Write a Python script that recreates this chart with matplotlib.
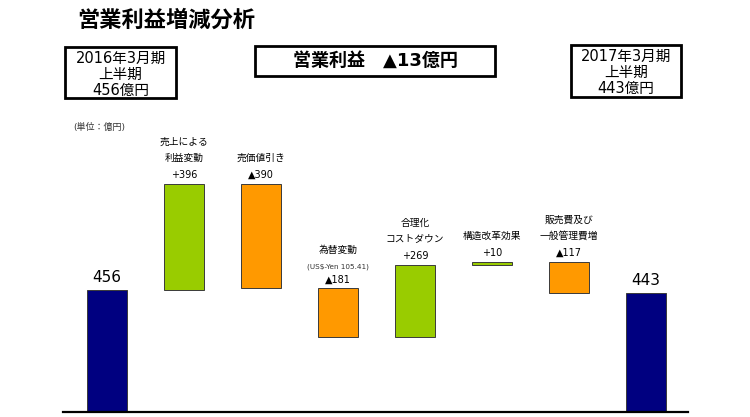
"""Waterfall chart: operating profit change analysis (first half)."""

import matplotlib

matplotlib.use("Agg")

from matplotlib import pyplot as plt
from matplotlib.patches import Rectangle

plt.rcParams["font.family"] = ["DejaVu Sans", "Noto Sans CJK JP"]

start_value = 456
end_value = 443
step_labels = [
    "売上による\n利益変動",
    "売価値引き",
    "為替変動\n(US$-Yen 105.41)",
    "合理化\nコストダウン",
    "構造改革効果",
    "販売費及び\n一般管理費増",
]
step_values = [396, -390, -181, 269, 10, -117]

NAVY = "#000080"
GREEN = "#99CC00"
ORANGE = "#FF9900"
W, H = 750, 417


def fx(px):
    return px / W


def fy(py):
    return 1 - py / H


def delta_text(value):
    return f"+{value}" if value > 0 else f"▲{-value}"


fig = plt.figure(figsize=(7.5, 4.17), dpi=100, facecolor="white")
ax = fig.add_axes([fx(63), fy(412), fx(688) - fx(63), fy(100) - fy(412)])
ax.set_xlim(-0.571, 7.545)
ax.set_ylim(0, (412 - 100) / 0.2675)
for side in ("top", "left", "right"):
    ax.spines[side].set_visible(False)
ax.spines["bottom"].set_linewidth(1.6)
ax.set_xticks([])
ax.set_yticks([])

width = 0.53
edge = dict(edgecolor="#3a3a3a", linewidth=0.7)

# totals
ax.bar(0, start_value, width=width, color=NAVY, **edge)
ax.bar(7, end_value, width=width, color=NAVY, **edge)
for x, v in ((0, start_value), (7, end_value)):
    ax.annotate(str(v), (x, v), xytext=(0, 5), textcoords="offset pixels",
                ha="center", va="bottom", fontsize=11)

# steps
level = start_value
for i, (label, v) in enumerate(zip(step_labels, step_values), start=1):
    bottom = level if v > 0 else level + v
    ax.bar(i, abs(v), bottom=bottom, width=width,
           color=GREEN if v > 0 else ORANGE, **edge)
    top = bottom + abs(v)
    ax.annotate(delta_text(v), (i, top), xytext=(0, 4), textcoords="offset pixels",
                ha="center", va="bottom", fontsize=7)
    offset = 21
    for line in reversed(label.split("\n")):
        small = line.startswith("(")
        ax.annotate(line, (i, top), xytext=(0, offset - (3 if small else 0)),
                    textcoords="offset pixels", ha="center", va="bottom",
                    fontsize=5.2 if small else 7,
                    color="#333333" if small else "black")
        offset += 12 if small else 16
    level += v

# title and header boxes
fig.text(fx(77), fy(20), "営業利益増減分析", fontsize=16, weight="bold",
         ha="left", va="center")


def header_box(x0, y0, x1, y1, lines, size, weight="normal", gap=16, shift=0):
    fig.patches.append(Rectangle((fx(x0), fy(y1)), fx(x1) - fx(x0), fy(y0) - fy(y1),
                                 transform=fig.transFigure, fill=False,
                                 edgecolor="black", linewidth=2))
    mid = (y0 + y1) / 2 + shift
    n = len(lines)
    for k, line in enumerate(lines):
        y = mid + (k - (n - 1) / 2) * gap
        fig.text(fx((x0 + x1) / 2), fy(y), line, fontsize=size, weight=weight,
                 ha="center", va="center")


header_box(65, 47, 176, 98, ["2016年3月期", "上半期", "456億円"], 10.5, shift=1.5)
header_box(571, 45, 681, 97, ["2017年3月期", "上半期", "443億円"], 10.5, shift=1.5)
header_box(255, 46, 495, 76, ["営業利益　▲13億円"], 13, weight="bold")

fig.text(fx(73), fy(127), "(単位：億円)", fontsize=6.5, ha="left", va="center",
         color="#333333")

fig.savefig("out.png", dpi=100, facecolor="white")
